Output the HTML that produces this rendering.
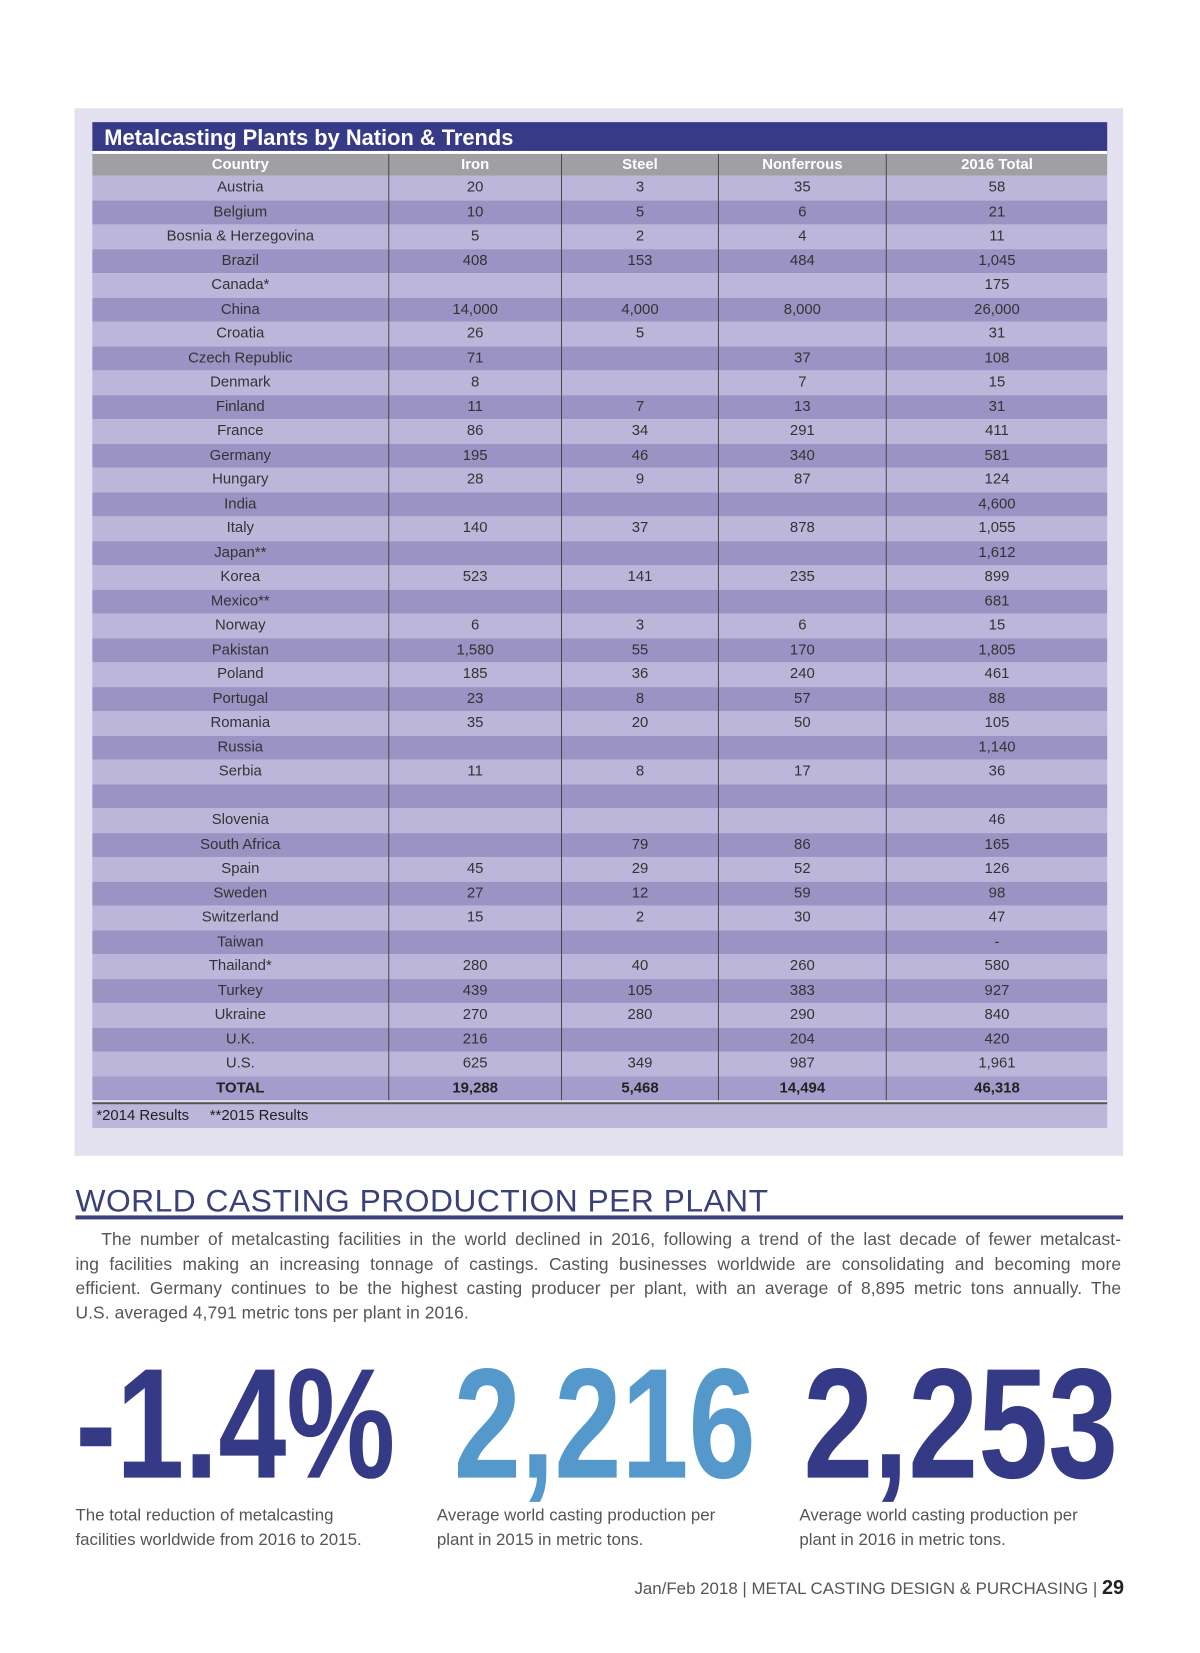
<!DOCTYPE html>
<html><head><meta charset="utf-8">
<style>
body{margin:0;width:1200px;height:1653px;background:#fff;position:relative;overflow:hidden;font-family:"Liberation Sans",sans-serif}
#wrap{position:absolute;left:0;top:0;width:1200px;height:1653px;transform:scale(0.993);transform-origin:0 0}
.abs{position:absolute}
#box{left:75px;top:109px;width:1056px;height:1055px;background:#e3e1ef}
#title{left:93px;top:123px;width:1022px;color:#fff;background:#363a87;font-weight:bold;font-size:22px;line-height:31px;box-sizing:border-box;padding-left:12px;border-bottom:4px solid #fff;height:33px}
.row{position:absolute;left:93px;width:1022px;height:24.5px;display:flex;font-size:15px;color:#333;line-height:24.5px}
.row div{text-align:center;box-sizing:border-box;border-right:1px solid #444}
.row div:last-child{border-right:none}
.c0{width:299px}.c1{width:174px}.c2{width:158px}.c3{width:169px}.c4{width:222px}
.p{font-size:17px;color:#555;line-height:24.5px}
.jl{display:block;text-align:justify;text-align-last:justify;white-space:nowrap}
</style></head><body>
<div id="wrap">
<div id="box" class="abs"></div>
<div id="title" class="abs">Metalcasting Plants by Nation &amp; Trends</div>
<div id="rows"></div>
<div class="abs" style="left:93px;top:1110px;width:1022px;height:26px;background:#bcb6da;border-top:2px solid #555;box-sizing:border-box;font-size:15px;line-height:24px;padding-left:4px;color:#222">*2014 Results &nbsp;&nbsp;&nbsp; **2015 Results</div>

<div class="abs" style="left:76px;top:1191px;font-size:32px;color:#3a4178;letter-spacing:0.5px">WORLD CASTING PRODUCTION PER PLANT</div>
<div class="abs" style="left:76px;top:1224px;width:1055px;height:4px;background:#3a4178"></div>
<div class="abs p" style="left:76px;top:1236px;width:1053px;font-size:17.5px;letter-spacing:0.1px">
<span class="jl" style="padding-left:26px">The number of metalcasting facilities in the world declined in 2016, following a trend of the last decade of fewer metalcast-</span>
<span class="jl">ing facilities making an increasing tonnage of castings. Casting businesses worldwide are consolidating and becoming more</span>
<span class="jl">efficient. Germany continues to be the highest casting producer per plant, with an average of 8,895 metric tons annually. The</span>
<span style="display:block">U.S. averaged 4,791 metric tons per plant in 2016.</span>
</div>

<svg class="abs" style="left:0;top:1346px" width="1200" height="170">
<text x="76" y="142" font-family="Liberation Sans" font-weight="bold" font-size="158" fill="#343a86" textLength="322" lengthAdjust="spacingAndGlyphs">-1.4%</text>
<text x="457" y="142" font-family="Liberation Sans" font-weight="bold" font-size="158" fill="#5599cc" textLength="304" lengthAdjust="spacingAndGlyphs">2,216</text>
<text x="809" y="142" font-family="Liberation Sans" font-weight="bold" font-size="158" fill="#343a86" textLength="317" lengthAdjust="spacingAndGlyphs">2,253</text>
</svg>
<div class="abs p" style="left:76px;top:1514px">The total reduction of metalcasting<br>facilities worldwide from 2016 to 2015.</div>
<div class="abs p" style="left:440px;top:1514px">Average world casting production per<br>plant in 2015 in metric tons.</div>
<div class="abs p" style="left:805px;top:1514px">Average world casting production per<br>plant in 2016 in metric tons.</div>
<div class="abs" style="right:68px;top:1588px;font-size:17px;color:#555">Jan/Feb 2018 | METAL CASTING DESIGN &amp; PURCHASING <span style="color:#555">|</span> <b style="color:#222;font-size:20px">29</b></div>
</div>

<script>
const countries=["Austria","Belgium","Bosnia & Herzegovina","Brazil","Canada*","China","Croatia","Czech Republic","Denmark","Finland","France","Germany","Hungary","India","Italy","Japan**","Korea","Mexico**","Norway","Pakistan","Poland","Portugal","Romania","Russia","Serbia","","Slovenia","South Africa","Spain","Sweden","Switzerland","Taiwan","Thailand*","Turkey","Ukraine","U.K.","U.S."];
const iron=["20","10","5","408","","14,000","26","71","8","11","86","195","28","","140","","523","","6","1,580","185","23","35","","11","","","","45","27","15","","280","439","270","216","625"];
const steel=["3","5","2","153","","4,000","5","","","7","34","46","9","","37","","141","","3","55","36","8","20","","8","","","79","29","12","2","","40","105","280","","349"];
const nonferrous=["35","6","4","484","","8,000","","37","7","13","291","340","87","","878","","235","","6","170","240","57","50","","17","","","86","52","59","30","","260","383","290","204","987"];
const total=["58","21","11","1,045","175","26,000","31","108","15","31","411","581","124","4,600","1,055","1,612","899","681","15","1,805","461","88","105","1,140","36","","46","165","126","98","47","-","580","927","840","420","1,961"];
const totals=["TOTAL","19,288","5,468","14,494","46,318"];
const host=document.getElementById('rows');
function mk(cells,top,bg,bold,color){
 const r=document.createElement('div');
 r.className='row';r.style.top=top+'px';r.style.background=bg;
 if(bold)r.style.fontWeight='bold';if(color)r.style.color=color;
 cells.forEach((c,i)=>{const d=document.createElement('div');d.className='c'+i;d.textContent=c;
  
  
  r.appendChild(d);});
 host.appendChild(r);return r;}
let h=mk(["Country","Iron","Steel","Nonferrous","2016 Total"],155,'#a0a0a4',true,'#fff');
h.style.height='22px';h.style.lineHeight='22px';


countries.forEach((c,i)=>{
 const r=mk([c,iron[i],steel[i],nonferrous[i],total[i]],177+i*24.5,i%2?'#9a93c4':'#bcb6da');
 
 
});
const t=mk(totals,177+37*24.5,'#a39dcb',true,'#222');


</script>
</body></html>
